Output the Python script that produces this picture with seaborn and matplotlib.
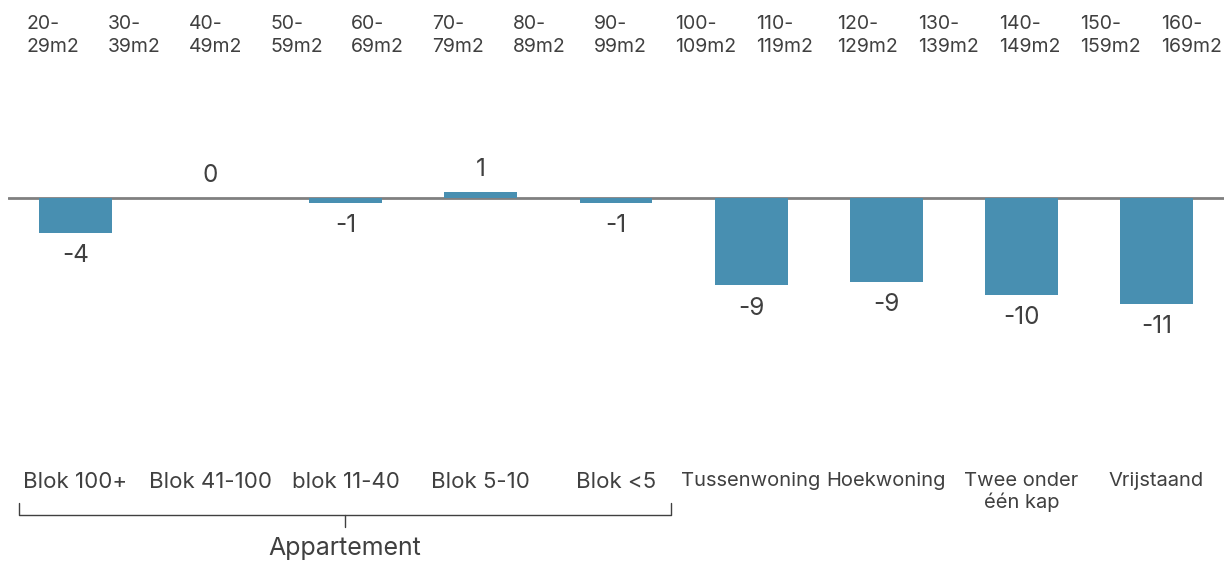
import matplotlib
matplotlib.use("Agg")
import matplotlib.pyplot as plt
import seaborn as sns
import pandas as pd
from matplotlib.transforms import blended_transform_factory

# ---- data ----
categories = ["Blok 100+", "Blok 41-100", "blok 11-40", "Blok 5-10", "Blok <5",
              "Tussenwoning", "Hoekwoning", "Twee onder\néén kap", "Vrijstaand"]
values = [-3.6, 0.0, -0.48, 0.6, -0.48, -9.1, -8.7, -10.1, -11.0]
value_labels = ["-4", "0", "-1", "1", "-1", "-9", "-9", "-10", "-11"]
size_labels = ["20-\n29m2", "30-\n39m2", "40-\n49m2", "50-\n59m2", "60-\n69m2",
               "70-\n79m2", "80-\n89m2", "90-\n99m2", "100-\n109m2", "110-\n119m2",
               "120-\n129m2", "130-\n139m2", "140-\n149m2", "150-\n159m2", "160-\n169m2"]
group_label = "Appartement"
group_members = 5

sns.set_theme(style="white")
plt.rcParams['font.family'] = ['Inter', 'DejaVu Sans']

TXT = "#404040"
BAR = "#488FB1"

W, H = 1224, 564
fig = plt.figure(figsize=(W / 100, H / 100), dpi=100)
ax = fig.add_axes([8 / W, 0, 1216 / W, 1])

df = pd.DataFrame({"cat": categories, "val": values})
sns.barplot(data=df, x="cat", y="val", color=BAR, saturation=1, width=0.54,
            linewidth=0, ax=ax)

scale = 9.6  # px per unit
ax.set_ylim(-(H - 198) / scale, 198 / scale)
ax.set_xlim(-0.5, len(categories) - 0.5)
ax.axhline(0, color="#808080", lw=2, zorder=0)
for s in ax.spines.values():
    s.set_visible(False)
ax.set_xticks([])
ax.set_yticks([])
ax.set_xlabel("")
ax.set_ylabel("")

# value labels
for i, (v, lab) in enumerate(zip(values, value_labels)):
    off = 23 / scale
    y = v + off if v >= 0 else v - off
    ax.text(i, y, lab, ha="center", va="center", fontsize=17.5, color=TXT)

# category labels
tr = blended_transform_factory(ax.transData, fig.transFigure)
for i, c in enumerate(categories):
    fs = 16 if i < group_members else 14.5
    ax.text(i, 1 - 472 / H, c, ha="center", va="top", fontsize=fs, color=TXT,
            transform=tr, linespacing=1.15)

# group bracket
x0 = -0.42
x1 = group_members - 1 + 0.41
xm = (x0 + x1) / 2
yb = 1 - 515 / H
ax.plot([x0, x0, x1, x1], [1 - 503 / H, yb, yb, 1 - 503 / H], color=TXT, lw=1,
        transform=tr, clip_on=False)
ax.plot([xm, xm], [yb, 1 - 527 / H], color=TXT, lw=1, transform=tr, clip_on=False)
ax.text(xm, 1 - 549 / H, group_label, ha="center", va="center", fontsize=18,
        color=TXT, transform=tr)

# top size labels
for i, lab in enumerate(size_labels):
    fig.text((27 + 81 * i) / W, 1 - 15 / H, lab, ha="left", va="top", fontsize=14,
             color=TXT, linespacing=1.35)

fig.savefig("out.png", dpi=100)
